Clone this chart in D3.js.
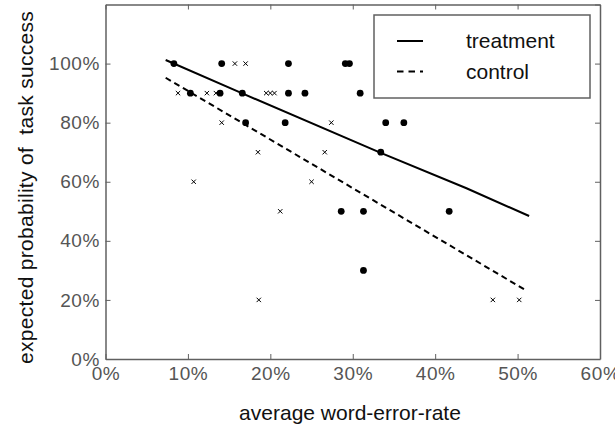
<!DOCTYPE html>
<html><head><meta charset="utf-8">
<script src="https://cdn.jsdelivr.net/npm/d3@7"></script>
<style>
html,body{margin:0;padding:0;background:#fff;}
svg{display:block;font-family:"Liberation Sans",Arial,Helvetica,sans-serif;}
</style></head>
<body>
<svg id="c" width="615" height="427"></svg>
<script>
// treatment observations (filled circles): word-error-rate %, success %
const treatmentWER = [8.3,14.1,22.2,29.1,29.6, 10.3,13.9,16.6,22.2,24.2,30.9, 17.0,21.8,34.0,36.2, 33.4, 28.6,31.3,41.7, 31.3];
const treatmentSucc = [100,100,100,100,100, 90,90,90,90,90,90, 80,80,80,80, 70, 50,50,50, 30];
// control observations (x marks)
const controlWER = [15.7,17.0, 8.8,12.3,13.4,19.5,20.0,20.5, 14.1,27.4, 18.5,26.6, 10.7,25.0, 21.2, 18.6,47.0,50.2];
const controlSucc = [100,100, 90,90,90,90,90,90, 80,80, 70,70, 60,60, 50, 20,20,20];
// fitted expected probability curves
const treatFitWER = [7.3,16.6,33.4,43.8,51.4];
const treatFitProb = [101.2,89.9,69.8,57.8,48.4];
const ctrlFitWER = [7.3,51.1];
const ctrlFitProb = [95.2,23.1];
// ticks
const xTicks = [0,10,20,30,40,50,60];
const yTicks = [0,20,40,60,80,100];
const legendLabels = ["treatment","control"];

const svg = d3.select("#c");
const L=105.5, R=600, T=4.5, B=359;
const x = d3.scaleLinear().domain([0,60]).range([L,R]);
const y = d3.scaleLinear().domain([0,120]).range([B,T]);
const axisCol = "#606060";
const fmt = d => d + "%";

function styleAxis(g){
  g.select(".domain").attr("stroke",axisCol).attr("stroke-width",1.5);
  g.selectAll(".tick line").attr("stroke",axisCol).attr("stroke-width",1);
  g.selectAll(".tick text").attr("fill","#555").attr("font-size",19).attr("letter-spacing","0.6px").attr("font-family","Liberation Sans, Arial, sans-serif");
}
svg.append("g").attr("transform",`translate(0,${B})`)
  .call(d3.axisBottom(x).tickValues(xTicks).tickFormat(fmt).tickSizeInner(-5).tickSizeOuter(0).tickPadding(8))
  .call(styleAxis);
svg.append("g").attr("transform",`translate(${L},0)`)
  .call(d3.axisLeft(y).tickValues(yTicks).tickFormat(fmt).tickSizeInner(-5).tickSizeOuter(0).tickPadding(5.5))
  .call(styleAxis);
svg.append("g").attr("transform",`translate(0,${T})`)
  .call(d3.axisTop(x).tickValues(xTicks).tickFormat("").tickSizeInner(-5).tickSizeOuter(0))
  .call(styleAxis);
svg.append("g").attr("transform",`translate(${R},0)`)
  .call(d3.axisRight(y).tickValues(yTicks.concat([120])).tickFormat("").tickSizeInner(-5).tickSizeOuter(0))
  .call(styleAxis);

// fits
const line = d3.line().x(d=>x(d[0])).y(d=>y(d[1]));
svg.append("path").datum(d3.zip(treatFitWER,treatFitProb)).attr("d",line)
  .attr("fill","none").attr("stroke","#000").attr("stroke-width",2);
svg.append("path").datum(d3.zip(ctrlFitWER,ctrlFitProb)).attr("d",line)
  .attr("fill","none").attr("stroke","#000").attr("stroke-width",2).attr("stroke-dasharray","6,4");

// points
svg.append("g").selectAll("circle").data(d3.zip(treatmentWER,treatmentSucc)).join("circle")
  .attr("cx",d=>x(d[0])).attr("cy",d=>y(d[1])).attr("r",3.4).attr("fill","#000");
const s=2.2;
svg.append("g").selectAll("path").data(d3.zip(controlWER,controlSucc)).join("path")
  .attr("d",d=>{const cx=x(d[0]),cy=y(d[1]);return `M${cx-s},${cy-s}L${cx+s},${cy+s}M${cx-s},${cy+s}L${cx+s},${cy-s}`;})
  .attr("stroke","#000").attr("stroke-width",1).attr("fill","none");

// legend
const lg = svg.append("g");
lg.append("rect").attr("x",374).attr("y",15).attr("width",216).attr("height",83)
  .attr("fill","#fff").attr("stroke",axisCol).attr("stroke-width",1.5);
const ly=[41,71.5];
lg.append("line").attr("x1",397).attr("x2",423).attr("y1",ly[0]).attr("y2",ly[0]).attr("stroke","#000").attr("stroke-width",2);
lg.append("line").attr("x1",397).attr("x2",423).attr("y1",ly[1]).attr("y2",ly[1]).attr("stroke","#000").attr("stroke-width",2).attr("stroke-dasharray","6.5,5");
lg.selectAll("text").data(legendLabels).join("text")
  .attr("x",466).attr("y",(d,i)=>ly[i]+7).attr("font-size",21).attr("fill","#111").text(d=>d);

// axis titles
svg.append("text").attr("x",350).attr("y",420).attr("text-anchor","middle")
  .attr("font-size",21).attr("fill","#111").text("average word-error-rate");
svg.append("text").attr("transform","translate(33,364) rotate(-90)").attr("text-anchor","start")
  .attr("font-size",21).attr("letter-spacing","0.3px").attr("fill","#111").style("white-space","pre").text("expected probability of  task success");
</script>
</body></html>
